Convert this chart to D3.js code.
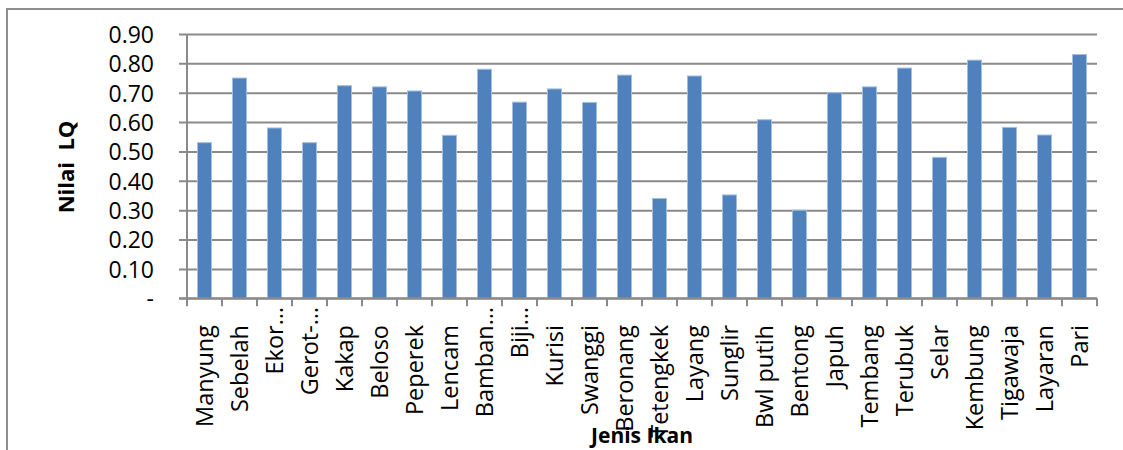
<!DOCTYPE html>
<html>
<head>
<meta charset="utf-8">
<script src="https://cdn.jsdelivr.net/npm/d3@7"></script>
<style>
  html, body { margin: 0; padding: 0; background: #fff; }
  svg { display: block; font-family: "Open Sans", "DejaVu Sans", sans-serif; }
</style>
</head>
<body>
<svg id="chart" width="1123" height="450"></svg>
<script>
// Jenis ikan (fish species) and their LQ values
const categories = [
  "Manyung", "Sebelah", "Ekor…", "Gerot-…", "Kakap", "Beloso", "Peperek",
  "Lencam", "Bamban…", "Biji…", "Kurisi", "Swanggi", "Beronang", "Tetengkek",
  "Layang", "Sunglir", "Bwl putih", "Bentong", "Japuh", "Tembang", "Terubuk",
  "Selar", "Kembung", "Tigawaja", "Layaran", "Pari"
];
const lqValues = [
  0.53, 0.75, 0.58, 0.53, 0.724, 0.72, 0.706,
  0.555, 0.78, 0.668, 0.713, 0.667, 0.76, 0.34,
  0.757, 0.352, 0.608, 0.30, 0.70, 0.72, 0.784,
  0.48, 0.811, 0.582, 0.556, 0.83
];
const yTickValues = [0, 0.1, 0.2, 0.3, 0.4, 0.5, 0.6, 0.7, 0.8, 0.9];
const yTitle = "Nilai  LQ";
const xTitle = "Jenis Ikan";

const data = categories.map((c, i) => ({ name: c, value: lqValues[i] }));

const svg = d3.select("#chart");
const plot = { left: 187, right: 1097, top: 34, bottom: 298.3 };
const gridColor = "#8a8a8a";

// outer chart frame (left and top edges visible)
svg.append("path")
  .attr("d", "M7,450 L7,9 L1123,9")
  .attr("fill", "none")
  .attr("stroke", "#8e8e8e")
  .attr("stroke-width", 2);

const x = d3.scaleBand()
  .domain(categories)
  .range([plot.left, plot.right])
  .paddingInner(0.6)
  .paddingOuter(0.3);

const y = d3.scaleLinear()
  .domain([0, 0.9])
  .range([plot.bottom, plot.top]);

// horizontal gridlines with short ticks left of the value axis
const yAxis = d3.axisLeft(y)
  .tickValues(yTickValues)
  .tickSize(-(plot.right - plot.left))
  .tickSizeOuter(0)
  .tickFormat(d => d === 0 ? "-" : d3.format(".2f")(d));

const gy = svg.append("g")
  .attr("transform", `translate(${plot.left},0)`)
  .call(yAxis);
gy.select(".domain").remove();
gy.selectAll(".tick line")
  .attr("x1", -8)
  .attr("stroke", gridColor)
  .attr("stroke-width", 2);
gy.selectAll(".tick text")
  .attr("x", -33)
  .attr("dy", "0.36em")
  .attr("fill", "#000")
  .style("font-size", "23px")
  .style("font-family", "'Open Sans', sans-serif");

// value axis line
svg.append("line")
  .attr("x1", plot.left).attr("x2", plot.left)
  .attr("y1", plot.top).attr("y2", plot.bottom)
  .attr("stroke", gridColor)
  .attr("stroke-width", 2);

// category axis tick marks between categories
const step = x.step();
const boundaries = categories.map(c => x(c) - x.paddingOuter() * step);
boundaries.push(plot.right);
svg.append("g")
  .selectAll("line")
  .data(boundaries)
  .join("line")
  .attr("x1", d => d).attr("x2", d => d)
  .attr("y1", plot.bottom).attr("y2", plot.bottom + 8)
  .attr("stroke", gridColor)
  .attr("stroke-width", 2);

// bars
svg.append("g")
  .selectAll("rect")
  .data(data)
  .join("rect")
  .attr("x", d => x(d.name))
  .attr("width", x.bandwidth())
  .attr("y", d => y(d.value))
  .attr("height", d => y(0) - y(d.value))
  .attr("fill", "#4f81bd")
  .attr("stroke", "#a3bfe0")
  .attr("stroke-width", 1);

// category axis baseline
svg.append("line")
  .attr("x1", plot.left - 8).attr("x2", plot.right)
  .attr("y1", plot.bottom).attr("y2", plot.bottom)
  .attr("stroke", gridColor)
  .attr("stroke-width", 2);

// rotated category labels
svg.append("g")
  .selectAll("text")
  .data(data)
  .join("text")
  .attr("transform", d => {
    const cx = x(d.name) + x.bandwidth() / 2;
    const top = d.name.endsWith("…") ? 307 : 325;
    return `translate(${cx},${top}) rotate(-90)`;
  })
  .attr("dy", "0.38em")
  .attr("text-anchor", "end")
  .style("font-size", "23.5px")
  .attr("fill", "#000")
  .text(d => d.name);

// axis titles
svg.append("text")
  .attr("transform", "translate(74,167) rotate(-90)")
  .attr("text-anchor", "middle")
  .style("font-size", "22px")
  .style("font-weight", "bold")
  .attr("fill", "#000")
  .attr("xml:space", "preserve")
  .style("white-space", "pre")
  .text(yTitle);

svg.append("text")
  .attr("x", (plot.left + plot.right) / 2)
  .attr("y", 443)
  .attr("text-anchor", "middle")
  .style("font-size", "21px")
  .style("font-weight", "bold")
  .attr("fill", "#000")
  .text(xTitle);
</script>
</body>
</html>
